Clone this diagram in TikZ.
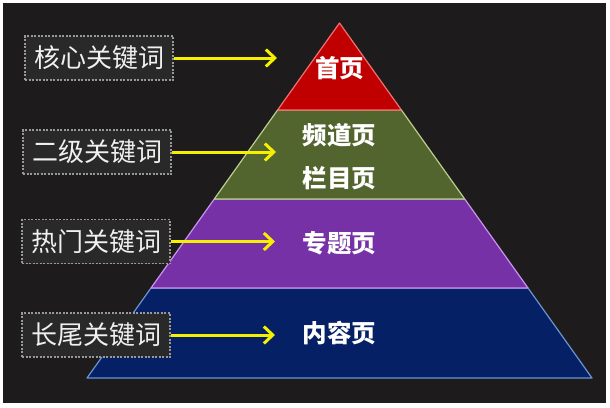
\documentclass[tikz,border=0pt]{standalone}
\usepackage{fontspec}
\newfontfamily\cjk{Noto Sans CJK SC}
\usetikzlibrary{arrows.meta}
\definecolor{bgc}{HTML}{1E1B1D}
\definecolor{boxc}{HTML}{2A292A}
\definecolor{redf}{HTML}{C00000}
\definecolor{rede}{HTML}{F07070}
\definecolor{grnf}{HTML}{53652E}
\definecolor{grne}{HTML}{B8D08A}
\definecolor{purf}{HTML}{7531A5}
\definecolor{pure}{HTML}{C894F0}
\definecolor{bluf}{HTML}{062066}
\definecolor{blue}{HTML}{6A94D4}
\definecolor{arrc}{HTML}{F5F000}
\tikzset{
  lbl/.style={draw=gray!80, fill=boxc, dash pattern=on 2pt off 1.5pt, line width=1.3pt,
    minimum width=148pt, minimum height=44pt, inner sep=0pt, text=white!88!gray,
    font=\cjk\fontsize{26}{26}\selectfont},
  ptxt/.style={text=white, font=\cjk\bfseries\fontsize{24.5}{24.5}\selectfont, inner sep=0pt},
  yarr/.style={draw=arrc, line width=3pt, -{Straight Barb[length=9pt,width=17pt,line width=3pt]}},
  layer/.style={line width=1.2pt, line join=round}
}
\begin{document}
\begin{tikzpicture}[x=1pt,y=-1pt]
\useasboundingbox (0,0) rectangle (610,407);
\fill[white] (0,0) rectangle (610,407);
\fill[bgc] (3,3) rectangle (606,403);
% pyramid layers
\coordinate (apex) at (339.5,23);
\coordinate (l1) at (277.6,110); \coordinate (r1) at (401.4,110);
\coordinate (l2) at (214.3,199); \coordinate (r2) at (464.7,199);
\coordinate (l3) at (151.0,288); \coordinate (r3) at (528.0,288);
\coordinate (l4) at (87,378);    \coordinate (r4) at (592,378);
\filldraw[layer, fill=bluf, draw=blue] (l3) -- (r3) -- (r4) -- (l4) -- cycle;
\filldraw[layer, fill=purf, draw=pure] (l2) -- (r2) -- (r3) -- (l3) -- cycle;
\filldraw[layer, fill=grnf, draw=grne] (l1) -- (r1) -- (r2) -- (l2) -- cycle;
\filldraw[layer, fill=redf, draw=rede] (apex) -- (r1) -- (l1) -- cycle;
% pyramid texts
\node[ptxt] (p1) at (339.5,68) {首页};
\node[ptxt] (p2a) at (339.5,135) {频道页};
\node[ptxt] (p2b) at (339.5,178) {栏目页};
\node[ptxt] (p3) at (339.5,243) {专题页};
\node[ptxt] (p4) at (339.5,333) {内容页};
% labels
\node[lbl] (k1) at (99,58) {核心关键词};
\node[lbl] (k2) at (97,152) {二级关键词};
\node[lbl] (k3) at (96,241.5) {热门关键词};
\node[lbl] (k4) at (96,335) {长尾关键词};
% arrow targets
\coordinate (t1) at (277,58);
\coordinate (t2) at (276,152);
\coordinate (t3) at (275,241.5);
\coordinate (t4) at (275,335);
\draw[yarr] (k1.east) -- (t1);
\draw[yarr] (k2.east) -- (t2);
\draw[yarr] (k3.east) -- (t3);
\draw[yarr] (k4.east) -- (t4);
\end{tikzpicture}
\end{document}
